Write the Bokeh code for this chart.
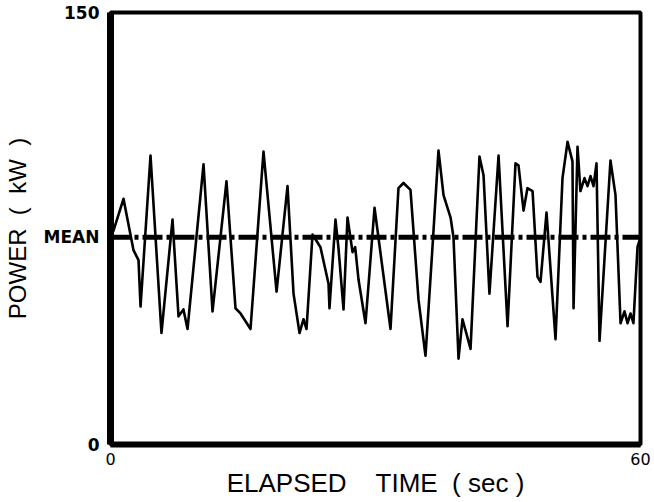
from bokeh.plotting import figure
from bokeh.models import FixedTicker
from bokeh.embed import file_html
from bokeh.resources import INLINE

# Values
time_s = [0.0, 0.34, 1.47, 2.6, 3.17, 3.4, 4.53, 5.77, 7.02, 7.7, 8.26, 8.72,
          10.53, 11.55, 13.13, 14.15, 14.72, 15.85, 17.32, 18.8, 20.04, 20.72,
          21.4, 21.85, 22.19, 22.87, 23.77, 24.68, 24.79, 25.47, 25.8, 26.38,
          26.83, 27.4, 27.7, 28.08, 28.87, 29.89, 31.7, 32.6, 33.17, 33.96,
          34.87, 35.66, 36.45, 37.13, 37.7, 38.5, 38.83, 39.4, 39.85, 40.76,
          41.77, 42.23, 42.9, 43.93, 44.95, 45.85, 46.19, 46.76, 47.2, 47.78,
          48.34, 48.68, 49.36, 50.38, 51.17, 51.74, 52.3, 52.42, 52.87, 53.2,
          53.66, 54.0, 54.34, 54.68, 55.02, 55.36, 56.6, 57.17, 57.74, 58.19,
          58.53, 58.87, 59.2, 59.66, 60.0]
power_kw = [71.9, 74.3, 85.3, 67.5, 64.0, 47.9, 100.3, 38.7, 78.1, 44.5, 46.9, 40.1,
            97.3, 46.2, 91.4, 47.3, 45.5, 40.1, 101.7, 53.1, 89.7, 52.4,
            38.7, 43.5, 40.1, 72.9, 68.5, 55.8, 47.3, 78.1, 68.5, 46.9,
            78.8, 66.8, 68.5, 57.2, 42.1, 82.2, 40.1, 89.0, 90.8, 88.4,
            50.3, 30.8, 68.5, 102.1, 86.6, 78.8, 71.9, 29.8, 43.5, 33.2,
            100.0, 93.5, 52.4, 100.3, 41.1, 97.6, 96.9, 81.2, 89.0, 88.0,
            58.2, 56.5, 80.5, 36.6, 92.5, 105.1, 98.3, 47.3, 103.4, 88.0,
            92.5, 89.7, 93.2, 89.7, 97.6, 36.0, 98.6, 86.6, 42.1, 46.2,
            42.1, 45.5, 42.1, 68.5, 71.9]
mean_kw = 72
x_ticks = [0, 60]
x_tick_labels = ["0", "60"]
y_ticks = [0, mean_kw, 150]
y_tick_labels = ["0", "MEAN", "150"]
x_title = "ELAPSED\u00a0\u00a0\u00a0\u00a0TIME\u00a0\u00a0(\u00a0sec\u00a0)"
y_title = "POWER\u00a0\u00a0(\u00a0\u00a0kW\u00a0\u00a0)"

p = figure(width=654, height=500, x_range=(0, 60), y_range=(0, 150),
           output_backend="svg", toolbar_location=None,
           min_border_left=110, min_border_right=14,
           min_border_top=12, min_border_bottom=50)
p.grid.visible = False
p.background_fill_color = "white"
p.border_fill_color = "white"
p.outline_line_color = "black"
p.outline_line_width = 4

p.line(time_s, power_kw, line_color="black", line_width=2.6, line_join="round")
p.line([x_ticks[0], x_ticks[-1]], [mean_kw, mean_kw], line_color="black",
       line_width=5, line_dash="20 4 4 4")

for ax in (p.xaxis[0], p.yaxis[0]):
    ax.major_tick_line_color = None
    ax.minor_tick_line_color = None
    ax.axis_line_color = "black"
    ax.major_label_text_font = "DejaVu Sans"
    ax.major_label_text_color = "black"
    ax.axis_label_text_font = "Liberation Sans"
    ax.axis_label_text_font_style = "normal"
    ax.axis_label_text_color = "black"

p.xaxis.ticker = FixedTicker(ticks=x_ticks)
p.xaxis.major_label_overrides = dict(zip(x_ticks, x_tick_labels))
p.xaxis.axis_line_width = 6
p.xaxis.major_label_text_font_style = "normal"
p.xaxis.major_label_text_font_size = "16px"
p.xaxis.major_label_standoff = 2
p.xaxis.axis_label = x_title
p.xaxis.axis_label_text_font_size = "26px"
p.xaxis.axis_label_standoff = 0

p.yaxis.ticker = FixedTicker(ticks=y_ticks)
p.yaxis.major_label_overrides = dict(zip(y_ticks, y_tick_labels))
p.yaxis.axis_line_width = 7
p.yaxis.major_label_text_font_style = "bold"
p.yaxis.major_label_text_font_size = "17px"
p.yaxis.major_label_standoff = 5
p.yaxis.axis_label = y_title
p.yaxis.axis_label_text_font_size = "24px"
p.yaxis.axis_label_standoff = 10

open("out.html", "w").write(file_html(p, INLINE))
